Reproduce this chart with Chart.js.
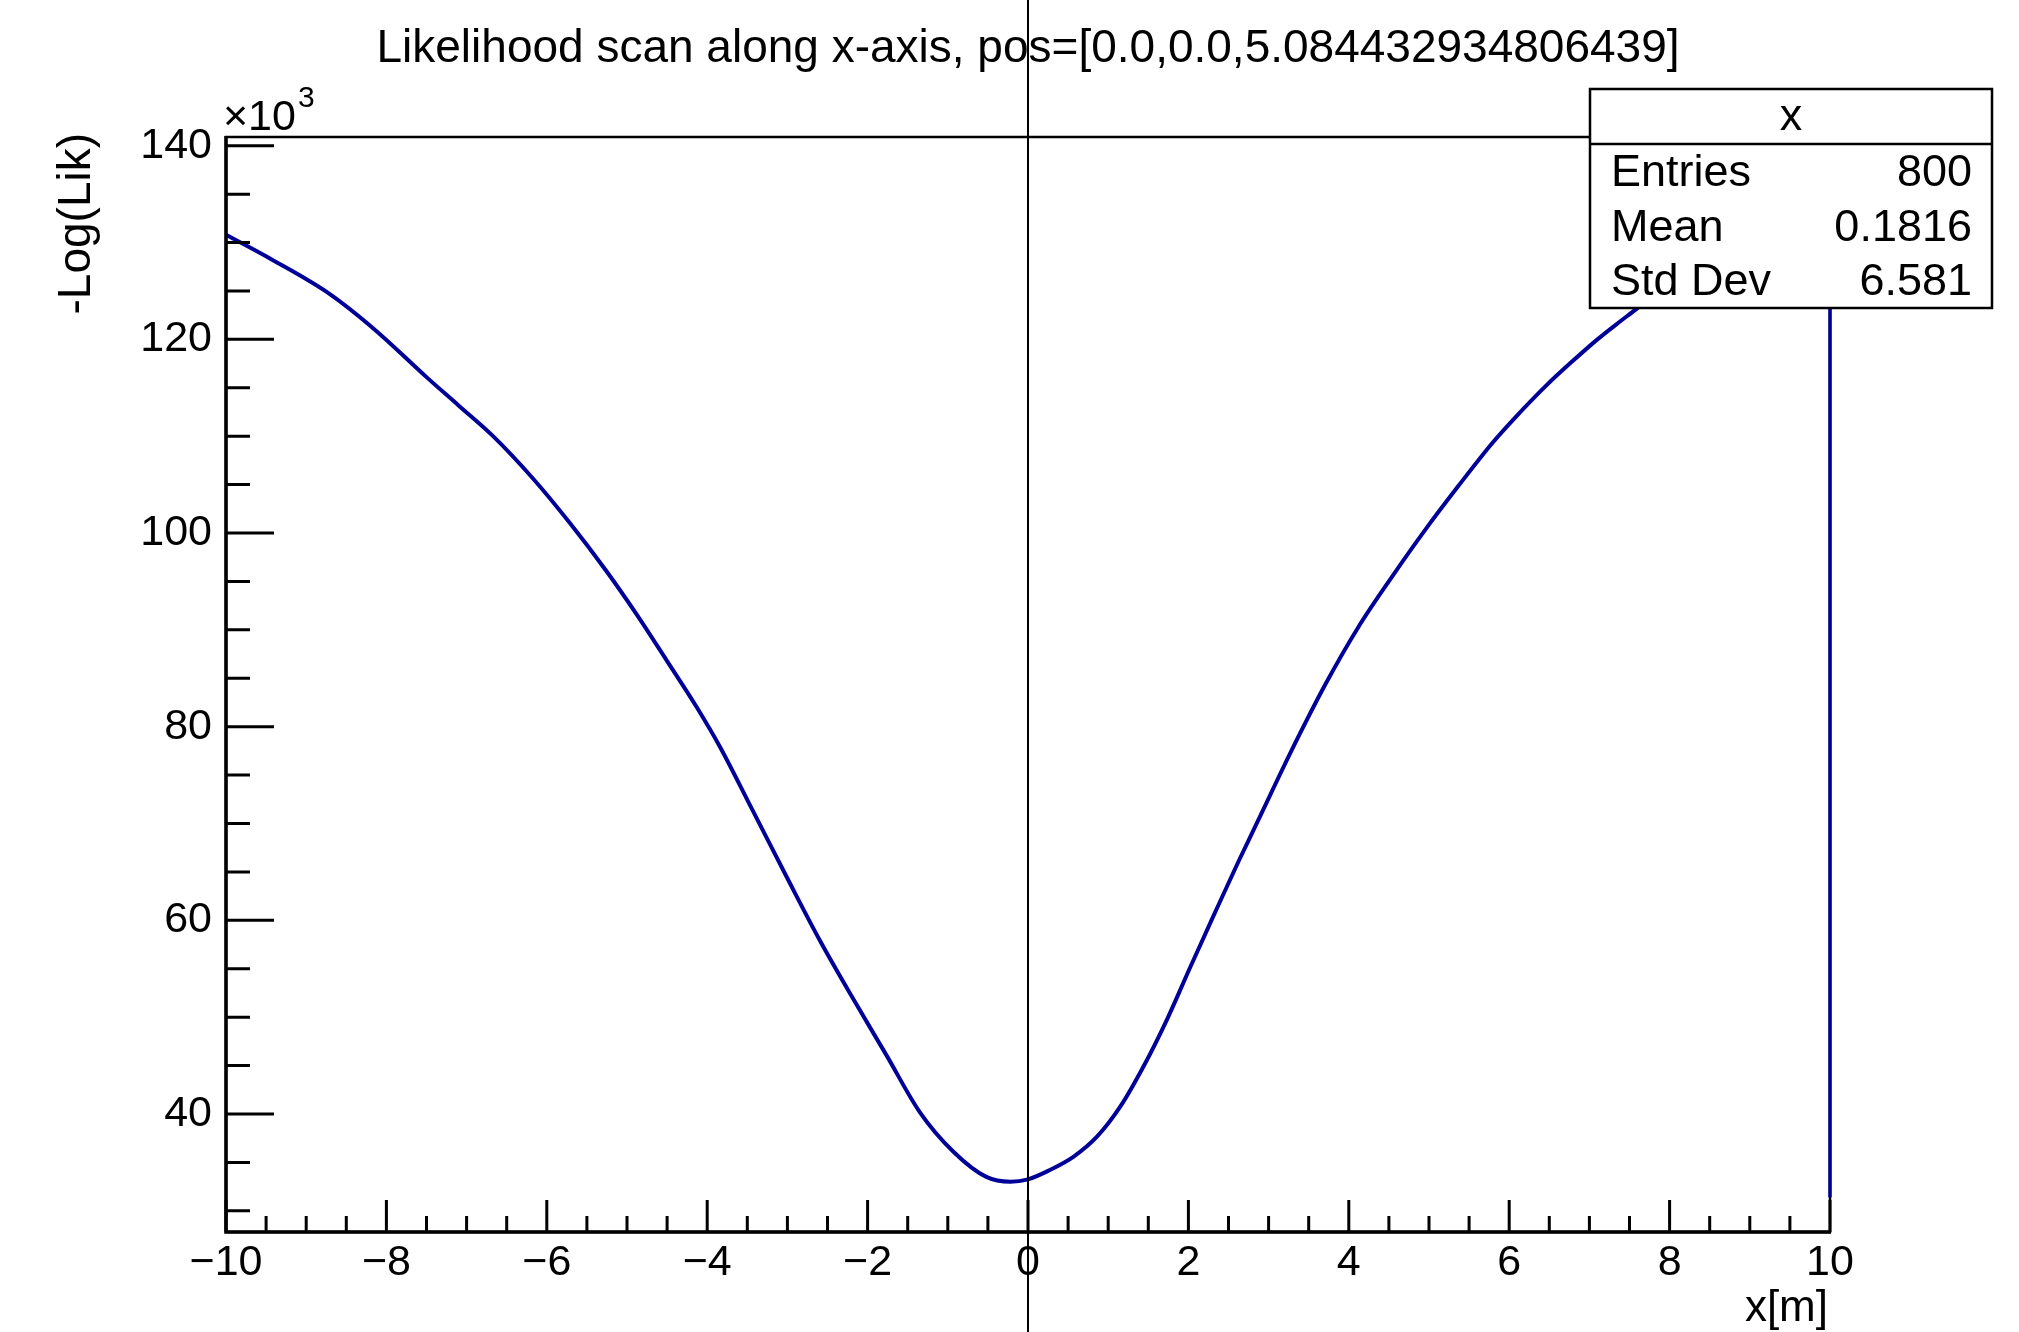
<!DOCTYPE html>
<html>
<head>
<meta charset="utf-8">
<title>Likelihood scan along x-axis</title>
<script src="https://cdn.jsdelivr.net/npm/chart.js@4/dist/chart.umd.min.js"></script>
<style>
  html, body { margin: 0; padding: 0; background: #ffffff; }
  #wrap { width: 2019px; height: 1332px; }
  canvas { display: block; }
</style>
</head>
<body>
<div id="wrap"><canvas id="scan" width="2019" height="1332"></canvas></div>
<script>
// Scan positions along x [m]
const xPos = [
  -10.00, -9.42, -8.71, -8.13, -7.50, -7.09, -6.67, -6.17, -5.71, -5.26,
  -4.88, -4.51, -4.13, -3.84, -3.43, -3.01, -2.60, -2.18, -1.76, -1.35,
  -0.93, -0.52, -0.22, 0.00, 0.27, 0.57, 0.86, 1.15, 1.44, 1.73,
  2.02, 2.31, 2.62, 2.88, 3.29, 3.71, 4.12, 4.54, 4.95, 5.37,
  5.79, 6.06, 6.47, 6.77, 7.10, 7.39, 7.58, 8.00, 8.50, 9.00,
  9.50, 10.00
];
// -Log(Lik) at each scan position
const negLogLik = [
  130800, 128200, 124700, 120900, 116100, 113100, 110000, 105600, 101000, 96100,
  91600, 86900, 82000, 77900, 71300, 64500, 58000, 51900, 46000, 40200,
  36100, 33500, 33000, 33250, 34200, 35600, 37650, 40750, 44900, 49700,
  55100, 60400, 66000, 70500, 77600, 84400, 90300, 95500, 100300, 104900,
  109300, 111800, 115300, 117600, 120000, 121900, 123100, 126000, 128800, 131400,
  133700, 135700
];
// Content of the last bin, where the outline drops at the upper edge
const lastBinX = 10.00;
const lastBinValue = 31400;

// Axis ranges and tick labels
const xRange = [-10, 10];
const yRange = [27810, 140900];
const xTickValues = [-10, -8, -6, -4, -2, 0, 2, 4, 6, 8, 10];
const yTickValues = [40000, 60000, 80000, 100000, 120000, 140000];
const xMinorStep = 0.5;
const yMinorStep = 5000;
const yExponentLabel = ['\u00d710', '3'];

// Texts
const chartTitle = 'Likelihood scan along x-axis, pos=[0.0,0.0,5.084432934806439]';
const xTitle = 'x[m]';
const yTitle = '-Log(Lik)';
const statsName = 'x';
const statsLabels = ['Entries', 'Mean', 'Std Dev'];
const statsValues = ['800', '0.1816', '6.581'];

// Reference line position
const markerX = 0;

const FONT = "'Liberation Sans', Arial, Helvetica, sans-serif";
const LINE_BLUE = '#000099';

const frameBack = {
  id: 'frameBack',
  beforeDatasetsDraw(chart) {
    const { ctx, chartArea: a } = chart;
    ctx.save();
    ctx.strokeStyle = '#000';
    ctx.lineWidth = 2.5;
    ctx.strokeRect(a.left, a.top, a.right - a.left, a.bottom - a.top);
    ctx.restore();
  }
};

const frameFront = {
  id: 'frameFront',
  afterDatasetsDraw(chart) {
    const { ctx, chartArea: a, scales } = chart;
    const xs = scales.x, ys = scales.y;
    ctx.save();
    ctx.strokeStyle = '#000';
    ctx.fillStyle = '#000';

    // axis lines
    ctx.lineWidth = 3.5;
    ctx.beginPath();
    ctx.moveTo(a.left, a.top - 1);
    ctx.lineTo(a.left, a.bottom);
    ctx.lineTo(a.right + 1, a.bottom);
    ctx.stroke();

    // x ticks (major + minor), pointing into the frame
    ctx.lineWidth = 3;
    ctx.beginPath();
    for (let v = xRange[0]; v <= xRange[1] + 1e-9; v += xMinorStep) {
      const px = xs.getPixelForValue(v);
      const isMajor = xTickValues.some(t => Math.abs(t - v) < 1e-6);
      ctx.moveTo(px, a.bottom);
      ctx.lineTo(px, a.bottom - (isMajor ? 32 : 16));
    }
    // y ticks
    const yStart = Math.ceil(yRange[0] / yMinorStep) * yMinorStep;
    for (let v = yStart; v <= yRange[1]; v += yMinorStep) {
      const py = ys.getPixelForValue(v);
      const isMajor = yTickValues.some(t => Math.abs(t - v) < 1e-6);
      ctx.moveTo(a.left, py);
      ctx.lineTo(a.left + (isMajor ? 48 : 24), py);
    }
    ctx.stroke();

    // exponent of the y axis
    ctx.textAlign = 'left';
    ctx.textBaseline = 'alphabetic';
    ctx.font = '43px ' + FONT;
    ctx.fillText(yExponentLabel[0], 223, 130);
    const w = ctx.measureText(yExponentLabel[0]).width;
    ctx.font = '30px ' + FONT;
    ctx.fillText(yExponentLabel[1], 223 + w + 2, 107);

    // main title
    ctx.font = '46px ' + FONT;
    ctx.textAlign = 'center';
    ctx.fillText(chartTitle, (a.left + a.right) / 2, 62);

    // axis titles
    ctx.font = '44px ' + FONT;
    ctx.textAlign = 'right';
    ctx.fillText(xTitle, a.right - 2, 1321);

    ctx.save();
    ctx.font = '46px ' + FONT;
    ctx.translate(90, a.top - 4);
    ctx.rotate(-Math.PI / 2);
    ctx.textAlign = 'right';
    ctx.fillText(yTitle, 0, 0);
    ctx.restore();

    // vertical reference line through the whole canvas
    const mx = xs.getPixelForValue(markerX);
    ctx.lineWidth = 2;
    ctx.beginPath();
    ctx.moveTo(mx, 0);
    ctx.lineTo(mx, chart.height);
    ctx.stroke();

    // statistics box
    const bx = 1590, by = 89, bw = 402, bh = 219, hdr = 144;
    ctx.fillStyle = '#fff';
    ctx.fillRect(bx, by, bw, bh);
    ctx.lineWidth = 2.5;
    ctx.strokeRect(bx, by, bw, bh);
    ctx.beginPath();
    ctx.moveTo(bx, hdr);
    ctx.lineTo(bx + bw, hdr);
    ctx.stroke();
    ctx.fillStyle = '#000';
    ctx.font = '45px ' + FONT;
    ctx.textAlign = 'center';
    ctx.fillText(statsName, bx + bw / 2, 130);
    const rowBase = [186, 241, 295];
    for (let i = 0; i < statsLabels.length; i++) {
      ctx.textAlign = 'left';
      ctx.fillText(statsLabels[i], 1611, rowBase[i]);
      ctx.textAlign = 'right';
      ctx.fillText(statsValues[i], 1972, rowBase[i]);
    }
    ctx.restore();
  }
};

const minusFmt = v => (v < 0 ? '\u2212' + Math.abs(v) : String(v));

new Chart(document.getElementById('scan'), {
  type: 'line',
  data: {
    datasets: [{
      label: yTitle,
      data: xPos.map((x, i) => ({ x: x, y: negLogLik[i] })),
      borderColor: LINE_BLUE,
      borderWidth: 4,
      pointRadius: 0,
      cubicInterpolationMode: 'monotone',
      fill: false,
      clip: false
    }, {
      label: 'last bin',
      data: [
        { x: lastBinX, y: negLogLik[negLogLik.length - 1] },
        { x: lastBinX, y: lastBinValue }
      ],
      borderColor: LINE_BLUE,
      borderWidth: 3.5,
      pointRadius: 0,
      tension: 0,
      fill: false,
      clip: false
    }]
  },
  options: {
    responsive: false,
    animation: false,
    devicePixelRatio: 1,
    layout: { padding: { left: 0, top: 137, right: 189, bottom: 0 } },
    plugins: { legend: { display: false }, title: { display: false }, tooltip: { enabled: false } },
    scales: {
      x: {
        type: 'linear',
        min: xRange[0],
        max: xRange[1],
        afterBuildTicks: s => { s.ticks = xTickValues.map(v => ({ value: v })); },
        afterFit: s => { s.height = 100; },
        grid: { display: false, drawTicks: false },
        border: { display: false },
        ticks: {
          autoSkip: false,
          maxRotation: 0,
          padding: 5,
          color: '#000',
          font: { family: FONT, size: 43 },
          callback: v => minusFmt(v)
        }
      },
      y: {
        type: 'linear',
        min: yRange[0],
        max: yRange[1],
        afterBuildTicks: s => { s.ticks = yTickValues.map(v => ({ value: v })); },
        afterFit: s => { s.width = 226; },
        grid: { display: false, drawTicks: false },
        border: { display: false },
        ticks: {
          autoSkip: false,
          padding: 14,
          color: '#000',
          font: { family: FONT, size: 43 },
          callback: v => String(v / 1000)
        }
      }
    }
  },
  plugins: [frameBack, frameFront]
});
</script>
</body>
</html>
